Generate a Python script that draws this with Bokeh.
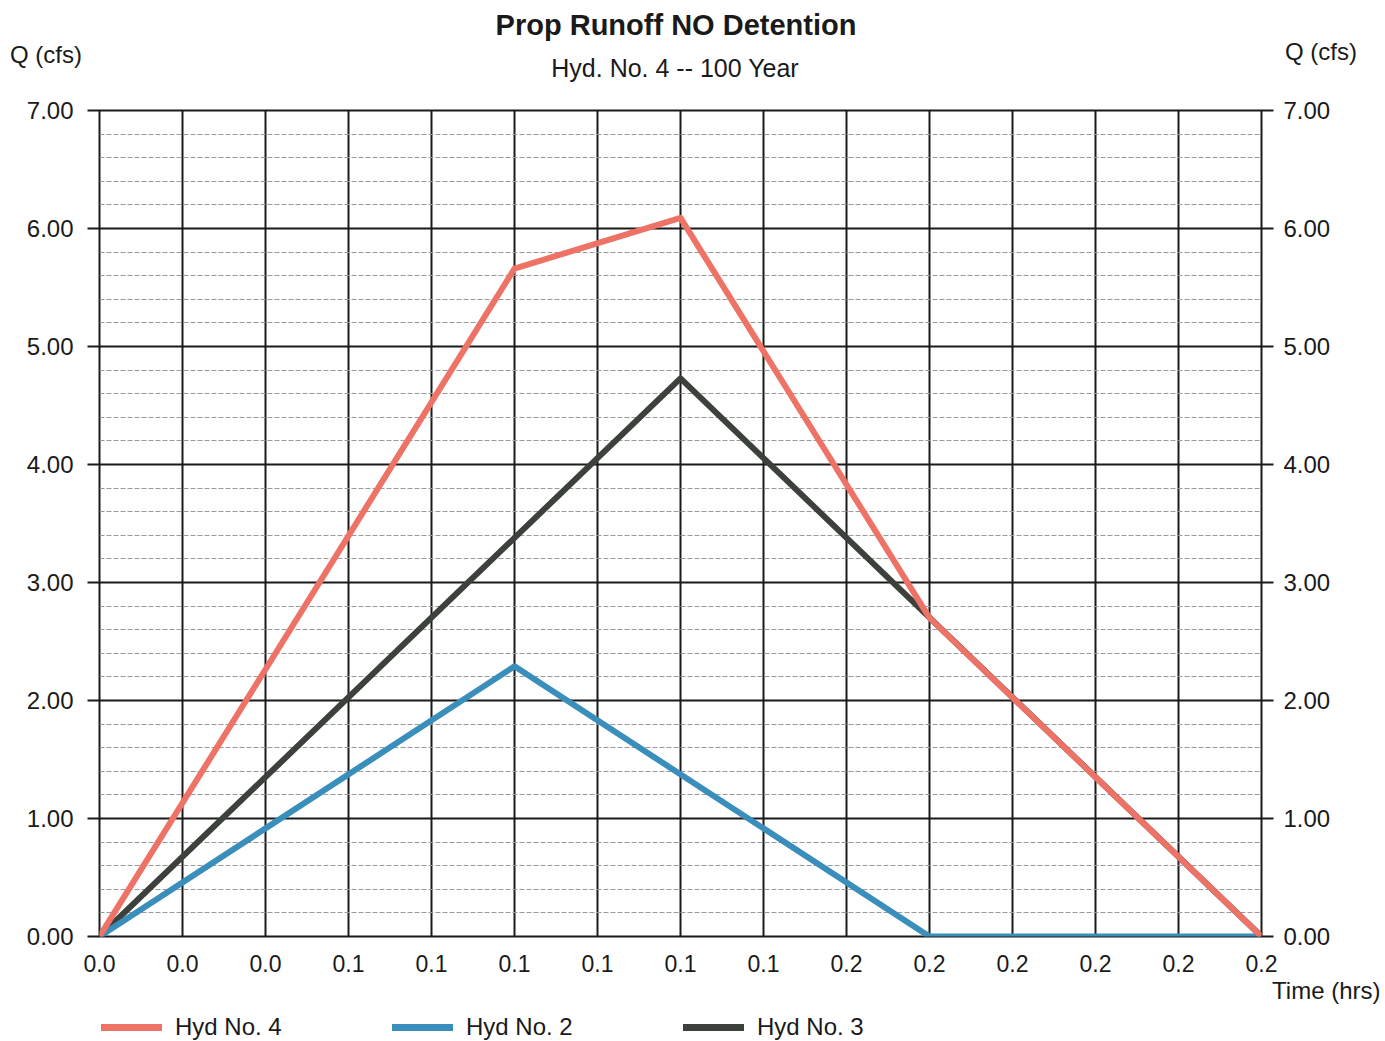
from bokeh.plotting import figure
from bokeh.layouts import column
from bokeh.models import (Range1d, FixedTicker, LinearAxis, CustomJSTickFormatter,
                          Legend, LegendItem, Title, Div)
from bokeh.embed import file_html
from bokeh.resources import INLINE

# ---- data (time in minutes, converted to hours) ----
hyd4_min = [0, 5, 7, 10, 14]
hyd4_q = [0.0, 5.66, 6.09, 2.70, 0.0]
hyd2_min = [0, 5, 10, 14]
hyd2_q = [0.0, 2.29, 0.0, 0.0]
hyd3_min = [0, 7, 14]
hyd3_q = [0.0, 4.73, 0.0]

x_tick_labels = ["0.0", "0.0", "0.0", "0.1", "0.1", "0.1", "0.1", "0.1", "0.1",
                 "0.2", "0.2", "0.2", "0.2", "0.2", "0.2"]
y_ticks = [0, 1, 2, 3, 4, 5, 6, 7]

series_names = ["Hyd No. 4", "Hyd No. 2", "Hyd No. 3"]
series_colors = ["#ee7266", "#3a8ebb", "#3c413c"]

title_text = "Prop Runoff NO Detention"
subtitle_text = "Hyd. No. 4 -- 100 Year"
y_title = "Q (cfs)"
x_title = "Time (hrs)"

to_hr = lambda m: [v / 60.0 for v in m]

FONT = "Liberation Sans"
TXT = "#1a1a1a"
W = 1385
TOP_H = 92
BOT_H = 28
MAIN_H = 1041 - TOP_H - BOT_H

# ---------- top strip: titles (HTML text) ----------
def span(s, x, y, size, center=False, bold=False):
    tr = "transform:translateX(-50%);" if center else ""
    return (f'<span style="position:absolute;left:{x}px;top:{y - 15}px;'
            f'line-height:30px;white-space:nowrap;font-family:\'{FONT}\';'
            f'font-size:{size}px;color:{TXT};font-weight:{"bold" if bold else "normal"};{tr}">'
            f'{s}</span>')

top_html = (f'<div style="position:relative;width:{W}px;height:{TOP_H}px;">'
            + span(title_text, 676, 25, 29, center=True, bold=True)
            + span(subtitle_text, 675, 68, 25, center=True)
            + span(y_title, 10, 55, 24)
            + span(y_title, 1285, 52, 24)
            + '</div>')
top = Div(text=top_html, width=W, height=TOP_H, margin=0)

# ---------- main chart ----------
FX0, FX1 = 99, 1261
XMAX = (len(x_tick_labels) - 1) / 60.0
p = figure(width=W, height=MAIN_H, output_backend="svg", toolbar_location=None,
           x_range=Range1d(0, XMAX), y_range=Range1d(0, 7),
           min_border_left=FX0, min_border_right=W - FX1,
           min_border_top=110 - TOP_H, min_border_bottom=MAIN_H - (936 - TOP_H),
           background_fill_color="white", border_fill_color="white")
p.outline_line_color = "#1a1a1a"
p.outline_line_width = 2

xt = FixedTicker(ticks=[i / 60.0 for i in range(len(x_tick_labels))], minor_ticks=[])
p.xaxis.ticker = xt
p.xaxis.formatter = CustomJSTickFormatter(args=dict(labels=x_tick_labels),
                                          code="return labels[Math.round(tick*60)];")
p.xaxis.axis_line_color = None
p.xaxis.major_tick_out = 0
p.xaxis.major_tick_in = 0
p.xaxis.minor_tick_out = 0
p.xaxis.major_label_standoff = 18
p.xaxis.major_label_text_font = FONT
p.xaxis.major_label_text_font_size = "23px"
p.xaxis.major_label_text_color = TXT

minor = [i * 0.2 for i in range(36) if i % 5 != 0]
yt = FixedTicker(ticks=y_ticks, minor_ticks=minor)
p.yaxis.ticker = yt
p.yaxis.formatter = CustomJSTickFormatter(code="return tick.toFixed(2);")
ry = LinearAxis(ticker=yt, formatter=CustomJSTickFormatter(code="return tick.toFixed(2);"))
p.add_layout(ry, "right")
for ax, so in ((p.yaxis[0], 14), (ry, 10)):
    ax.axis_line_color = None
    ax.major_tick_out = 12
    ax.major_tick_in = 0
    ax.major_tick_line_width = 2
    ax.major_tick_line_color = TXT
    ax.minor_tick_out = 0
    ax.minor_tick_in = 0
    ax.major_label_standoff = so
    ax.major_label_text_font = FONT
    ax.major_label_text_font_size = "24px"
    ax.major_label_text_color = TXT

p.xgrid.grid_line_color = TXT
p.xgrid.grid_line_width = 2
p.ygrid.grid_line_color = TXT
p.ygrid.grid_line_width = 2
p.ygrid.minor_grid_line_color = "#9a9a9a"
p.ygrid.minor_grid_line_width = 1
p.ygrid.minor_grid_line_dash = "5 2"

p.line(to_hr(hyd3_min), hyd3_q, line_color=series_colors[2], line_width=6, line_join="round")
p.line(to_hr(hyd2_min), hyd2_q, line_color=series_colors[1], line_width=6, line_join="round")
p.line(to_hr(hyd4_min), hyd4_q, line_color=series_colors[0], line_width=6, line_join="round")

# x title below the axis, right side
p.add_layout(Title(text=x_title, align="right", offset=-119, standoff=0,
                   vertical_align="bottom", text_baseline="middle",
                   text_font=FONT, text_font_size="24px", text_font_style="normal",
                   text_color=TXT), "below")

# ---------- bottom strip: legend ----------
bot = figure(width=W, height=BOT_H, output_backend="svg", toolbar_location=None,
             x_range=Range1d(0, XMAX), y_range=Range1d(-1, 0),
             x_axis_type=None, y_axis_type=None, min_border=0,
             background_fill_color="white", border_fill_color="white")
bot.grid.visible = False
bot.outline_line_color = None
items = []
for name, col, xs, qs in zip(series_names, series_colors,
                             [hyd4_min, hyd2_min, hyd3_min], [hyd4_q, hyd2_q, hyd3_q]):
    r = bot.line(to_hr(xs), qs, line_color=col, line_width=7, line_cap="round",
                 visible=False)
    items.append(LegendItem(label=name, renderers=[r]))
legend = Legend(items=items, orientation="horizontal", location=(2, 0),
                padding=0, margin=0, spacing=0, glyph_width=61, glyph_height=20,
                label_standoff=13, label_width=217, label_height=20, label_text_font=FONT,
                label_text_font_size="24px", label_text_color=TXT,
                border_line_color=None, background_fill_alpha=0,
                inactive_fill_alpha=0)
bot.add_layout(legend, "center")

layout = column(top, p, bot, spacing=0)
open("out.html", "w").write(file_html(layout, INLINE))
